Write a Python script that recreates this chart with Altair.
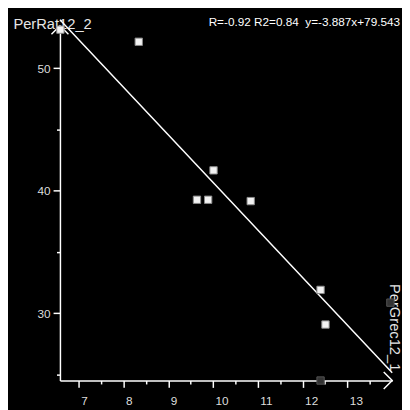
import altair as alt
import pandas as pd

# ---- data ----
px = [6.59, 8.34, 10.01, 9.64, 9.89, 10.84, 12.40, 12.51, 12.40, 13.96]
py = [53.15, 52.16, 41.66, 39.26, 39.26, 39.15, 31.90, 29.07, 24.50, 30.86]
pkind = ["on", "on", "on", "on", "on", "on", "on", "on", "off", "off"]

slope = -3.887
intercept = 79.543
stats_text = "R=-0.92 R2=0.84\u00a0 y=-3.887x+79.543"

x_title = "PerGrec12_1"
y_title = "PerRat12_2"
x_dom = [6.58, 14.0]
y_dom = [24.5, 53.47]
x_ticks = [7, 7.5, 8, 8.5, 9, 9.5, 10, 10.5, 11, 11.5, 12, 12.5, 13, 13.5]
y_ticks = [25, 30, 35, 40, 45, 50]

pts = pd.DataFrame({"x": px, "y": py, "kind": pkind})
line_df = pd.DataFrame({"x": x_dom, "y": [slope * v + intercept for v in x_dom]})
xarrow = pd.DataFrame({"x": [x_dom[1]], "y": [y_dom[0]]})
yarrow = pd.DataFrame({"x": [x_dom[0]], "y": [y_dom[1]]})
stats = pd.DataFrame({"t": [stats_text]})

FONT = "Liberation Sans"

x_axis = alt.Axis(
    values=x_ticks, format="~g",
    labelExpr="datum.value % 1 === 0 ? datum.label : ''",
    tickSize={"condition": {"test": "datum.value % 1 === 0", "value": 7}, "value": 3.5},
    labelAlign="left", labelOffset=2, labelPadding=8,
    labelColor="#dddddd", labelFontSize=12, labelFont=FONT,
    domainColor="white", domainWidth=1.5, tickColor="white", tickWidth=1.5,
    grid=False, title=x_title, titleColor="#e6e6e6", titleFontSize=15,
    titleFont=FONT, titleFontWeight="normal", titleAngle=90,
    titleX=336, titleY=-99, titleAlign="left", titleBaseline="alphabetic",
)
y_axis = alt.Axis(
    values=y_ticks, format="~g",
    labelExpr="datum.value % 10 === 0 ? datum.label : ''",
    tickSize={"condition": {"test": "datum.value % 10 === 0", "value": 7}, "value": 3.5},
    labelPadding=3,
    labelColor="#dddddd", labelFontSize=12, labelFont=FONT,
    domainColor="white", domainWidth=1.5, tickColor="white", tickWidth=1.5,
    grid=False, title=y_title, titleColor="#e6e6e6", titleFontSize=15,
    titleFont=FONT, titleFontWeight="normal", titleAngle=0,
    titleX=-48, titleY=3, titleAlign="left", titleBaseline="alphabetic",
)
xs = alt.Scale(domain=x_dom, nice=False, zero=False)
ys = alt.Scale(domain=y_dom, nice=False, zero=False)

def X():
    return alt.X("x:Q", scale=xs, axis=x_axis)

def Y():
    return alt.Y("y:Q", scale=ys, axis=y_axis)

reg = alt.Chart(line_df).mark_line(color="white", strokeWidth=1.5).encode(x=X(), y=Y())

points = alt.Chart(pts).mark_point(shape="square", filled=True, size=56, opacity=1, strokeWidth=1).encode(
    x=X(), y=Y(),
    fill=alt.Fill("kind:N", scale=alt.Scale(domain=["on", "off"], range=["#f2f2f2", "#333333"]), legend=None),
    stroke=alt.Stroke("kind:N", scale=alt.Scale(domain=["on", "off"], range=["#8a8a8a", "#555555"]), legend=None),
)

xa = alt.Chart(xarrow).mark_point(shape="M-1,-1L0,0L-1,1", filled=False, size=300,
                                  color="white", strokeWidth=1.5, opacity=1).encode(x=X(), y=Y())
ya = alt.Chart(yarrow).mark_point(shape="M-1,1L0,0L1,1", filled=False, size=300,
                                  color="white", strokeWidth=1.5, opacity=1).encode(x=X(), y=Y())

txt = alt.Chart(stats).mark_text(align="right", baseline="alphabetic", fontSize=12,
                                 font=FONT, color="white").encode(
    text="t:N", x=alt.value(347), y=alt.value(0))

chart = alt.layer(reg, xa, ya, points, txt).properties(
    width=339, height=362,
    background="black",
    padding={"left": 53, "top": 14, "right": 10, "bottom": 26},
    autosize=alt.AutoSizeParams(type="none"),
).configure_view(stroke=None)

chart.save("out.html", embed_options={"renderer": "svg", "actions": False})
